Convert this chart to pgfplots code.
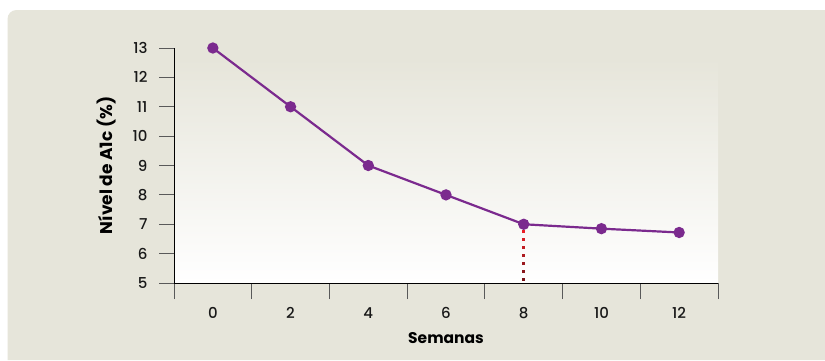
\documentclass[border=0pt]{standalone}
\usepackage{pgfplots}
\pgfplotsset{compat=1.18}
\usepackage{fontspec}
\setmainfont{Poppins}
\newfontfamily\tickfont{Poppins Medium}
\definecolor{panel}{HTML}{E6E5DA}
\definecolor{lineP}{HTML}{7B2A8E}
\begin{document}
\begin{tikzpicture}[x=1pt,y=1pt]
\fill[white] (0,0) rectangle (825,360);
\fill[panel] (7.5,0) -- (7.5,341) arc[start angle=180, end angle=90, radius=9] -- (825,350) -- (825,0) -- cycle;
\begin{axis}[
  at={(174pt,77pt)}, anchor=south west,
  scale only axis, width=544pt, height=235pt,
  xmin=-1, xmax=13, ymin=5, ymax=13,
  clip=false,
  axis lines*=left,
  axis line style={black, line width=1pt},
  xtick={0,2,...,12},
  minor xtick={-1,1,...,13},
  ytick={5,...,13},
  major x tick style={draw=none},
  minor x tick style={draw=black!65, line width=1pt},
  y tick style={draw=black!65, line width=1pt},
  tick align=outside,
  major tick length=15pt,
  minor tick length=16pt,
  /pgf/number format/assume math mode=true,
  tick label style={font=\tickfont\fontsize{15}{17}\selectfont, text=black!90},
  xticklabel style={yshift=-6pt},
  yticklabel style={xshift=-8pt},
  xlabel={\bfseries Semanas},
  ylabel={\bfseries Nível de A1c (\%)},
  label style={font=\fontsize{15.5}{17}\selectfont\bfseries},
  xlabel style={at={(axis description cs:0.5,0)}, anchor=center, yshift=-55pt},
  ylabel style={at={(axis description cs:0,0.5)}, anchor=center, rotate=0, yshift=67pt, yshift=0pt, font=\fontsize{17}{19}\selectfont\bfseries},
  axis on top,
]
\fill[top color=panel, bottom color=white] (axis cs:-1,5) rectangle (axis cs:13,12.66);
\addplot[draw={rgb,255:red,234;green,30;blue,38}, line width=3pt] coordinates {(8,6.70) (8,6.81)};
\addplot[draw={rgb,255:red,214;green,30;blue,36}, line width=3pt] coordinates {(8,6.44) (8,6.53)};
\addplot[draw={rgb,255:red,194;green,29;blue,34}, line width=3pt] coordinates {(8,6.17) (8,6.27)};
\addplot[draw={rgb,255:red,174;green,27;blue,32}, line width=3pt] coordinates {(8,5.90) (8,6.00)};
\addplot[draw={rgb,255:red,154;green,25;blue,30}, line width=3pt] coordinates {(8,5.61) (8,5.73)};
\addplot[draw={rgb,255:red,136;green,22;blue,27}, line width=3pt] coordinates {(8,5.34) (8,5.45)};
\addplot[draw={rgb,255:red,120;green,20;blue,24}, line width=3pt] coordinates {(8,5.07) (8,5.17)};
\addplot[color=lineP, line width=2.2pt, mark=*, mark size=4.5pt, mark options={fill=lineP, draw=lineP}]
  coordinates {(0,13) (2,11) (4,9) (6,8) (8,7) (10,6.85) (12,6.72)};
\end{axis}
\end{tikzpicture}
\end{document}
